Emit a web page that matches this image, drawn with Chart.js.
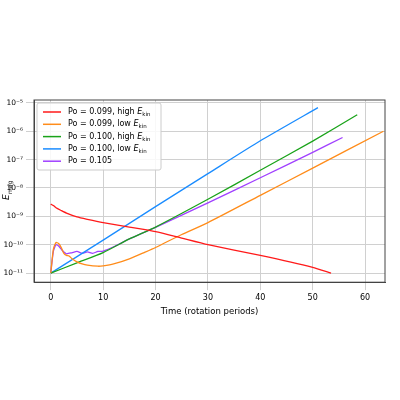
<!DOCTYPE html>
<html>
<head>
<meta charset="utf-8">
<script src="https://cdn.jsdelivr.net/npm/chart.js@4/dist/chart.umd.min.js"></script>
<style>
  html, body { margin: 0; padding: 0; background: #fff; }
  #wrap { width: 400px; height: 400px; }
</style>
</head>
<body>
<div id="wrap"><canvas id="c" width="400" height="400"></canvas></div>
<script>
// series data (x: rotation periods, y: E_mag)
const redX = [0, 0.5, 1, 2, 3, 5, 7, 10, 15, 20, 25, 30, 40, 50, 53.5];
const redY = [2.7e-9, 2.4e-9, 2.0e-9, 1.6e-9, 1.3e-9, 9.5e-10, 7.8e-10, 6.0e-10, 4.2e-10, 2.9e-10, 1.7e-10, 1.0e-10, 4.2e-11, 1.6e-11, 1.0e-11];

const orangeX = [0, 0.5, 1, 1.5, 2, 2.5, 3, 3.5, 4, 5, 6, 7, 9, 10, 12, 15, 18, 20, 25, 30, 40, 50, 63.5];
const orangeY = [1e-11, 7e-11, 1.2e-10, 1.1e-10, 8e-11, 5e-11, 4.2e-11, 4e-11, 3.3e-11, 2.5e-11, 2.1e-11, 1.9e-11, 1.75e-11, 1.8e-11, 2.1e-11, 3.2e-11, 5.5e-11, 8e-11, 2.3e-10, 6e-10, 5.5e-9, 5.0e-8, 1.0e-6];

const greenX = [0, 5, 10, 15, 20, 30, 40, 50, 58.5];
const greenY = [1e-11, 2.3e-11, 5.3e-11, 1.6e-10, 4.2e-10, 4.0e-9, 4.2e-8, 4.5e-7, 3.8e-6];

const blueX = [0, 10, 20, 30, 40, 51];
const blueY = [1e-11, 1.45e-10, 2.2e-9, 3.2e-8, 4.6e-7, 6.8e-6];

const purpleX = [0, 0.5, 1, 1.5, 2, 2.5, 3, 4, 5, 6, 7, 8, 9, 10, 12, 15, 20, 30, 40, 50, 55.7];
const purpleY = [1e-11, 6e-11, 1.0e-10, 9e-11, 7e-11, 5.5e-11, 4.8e-11, 5.2e-11, 5.8e-11, 5.0e-11, 5.6e-11, 5.0e-11, 5.8e-11, 6.0e-11, 8.5e-11, 1.6e-10, 4.1e-10, 3.0e-9, 2.3e-8, 1.8e-7, 6e-7];

const labels = ["Po = 0.099, high ", "Po = 0.099, low ", "Po = 0.100, high ", "Po = 0.100, low ", "Po = 0.105"];
const subs = ["kin", "kin", "kin", "kin", ""];
const colors = ["#ff1a1a", "#ff8c1a", "#1aa31a", "#1a8cff", "#a040ff"];
const xTicks = [0, 10, 20, 30, 40, 50, 60];
const yTicks = [1e-11, 1e-10, 1e-9, 1e-8, 1e-7, 1e-6, 1e-5];
const supers = { "-": "⁻", "0": "⁰", "1": "¹", "2": "²", "3": "³", "4": "⁴", "5": "⁵", "6": "⁶", "7": "⁷", "8": "⁸", "9": "⁹" };

function pts(xs, ys) { return xs.map((x, i) => ({ x: x, y: ys[i] })); }
const allData = [pts(redX, redY), pts(orangeX, orangeY), pts(greenX, greenY), pts(blueX, blueY), pts(purpleX, purpleY)];

const F = "'DejaVu Sans', sans-serif";

// legend inside the plot, frame, and E_mag title
const legendBox = {
  id: "legendBox",
  afterDraw(chart) {
    const ctx = chart.ctx, a = chart.chartArea;
    ctx.save();
    ctx.strokeStyle = "#444"; ctx.lineWidth = 1;
    ctx.strokeRect(a.left, a.top, a.right - a.left, a.bottom - a.top);
    const x0 = a.left + 3, y0 = a.top + 3, w = 124, h = 67;
    ctx.fillStyle = "rgba(255,255,255,0.85)";
    ctx.strokeStyle = "#ccc";
    ctx.beginPath();
    ctx.roundRect(x0, y0, w, h, 2);
    ctx.fill(); ctx.stroke();
    labels.forEach((t, i) => {
      const y = y0 + 9 + i * 12.3;
      ctx.strokeStyle = colors[i]; ctx.lineWidth = 1.5;
      ctx.beginPath(); ctx.moveTo(x0 + 6, y); ctx.lineTo(x0 + 24, y); ctx.stroke();
      ctx.fillStyle = "#000"; ctx.textBaseline = "middle";
      ctx.font = "8px " + F;
      ctx.fillText(t, x0 + 31, y);
      if (subs[i]) {
        let tx = x0 + 31 + ctx.measureText(t).width;
        ctx.font = "italic 8px " + F;
        ctx.fillText("E", tx, y);
        tx += ctx.measureText("E").width;
        ctx.font = "5.5px " + F;
        ctx.fillText(subs[i], tx, y + 2.5);
      }
    });
    ctx.translate(7, (a.top + a.bottom) / 2);
    ctx.rotate(-Math.PI / 2);
    ctx.textBaseline = "middle";
    ctx.font = "italic 9px " + F;
    ctx.fillText("E", -9, 0);
    ctx.font = "6px " + F;
    ctx.fillText("mag", -3, 3);
    ctx.restore();
  }
};

new Chart(document.getElementById("c"), {
  type: "line",
  data: {
    datasets: allData.map((d, i) => ({
      data: d,
      borderColor: colors[i],
      borderWidth: 1.3,
      pointRadius: 0,
      tension: 0.2,
      fill: false
    }))
  },
  options: {
    responsive: false,
    animation: false,
    layout: { padding: { left: 0, right: 15, top: 100, bottom: 82 } },
    plugins: { legend: { display: false }, tooltip: { enabled: false } },
    scales: {
      x: {
        type: "linear", min: -3.2, max: 63.8,
        grid: { color: "#d0d0d0", lineWidth: 1 },
        border: { color: "#444" },
        afterBuildTicks: ax => { ax.ticks = xTicks.map(v => ({ value: v })); },
        ticks: { color: "#000", font: { size: 8, family: F }, maxRotation: 0 },
        title: { display: true, text: "Time (rotation periods)", color: "#000", font: { size: 8.5, family: F }, padding: 1 }
      },
      y: {
        type: "logarithmic", min: Math.pow(10, -11.32), max: Math.pow(10, -4.9),
        grid: { color: "#d0d0d0", lineWidth: 1 },
        border: { color: "#444" },
        afterBuildTicks: ax => { ax.ticks = yTicks.map(v => ({ value: v })); },
        afterFit: ax => { ax.width = 34; },
        ticks: {
          color: "#000", font: { size: 7.5, family: F },
          callback: v => "10" + String(Math.round(Math.log10(v))).split("").map(c => supers[c]).join("")
        }
      }
    }
  },
  plugins: [legendBox]
});
</script>
</body>
</html>
